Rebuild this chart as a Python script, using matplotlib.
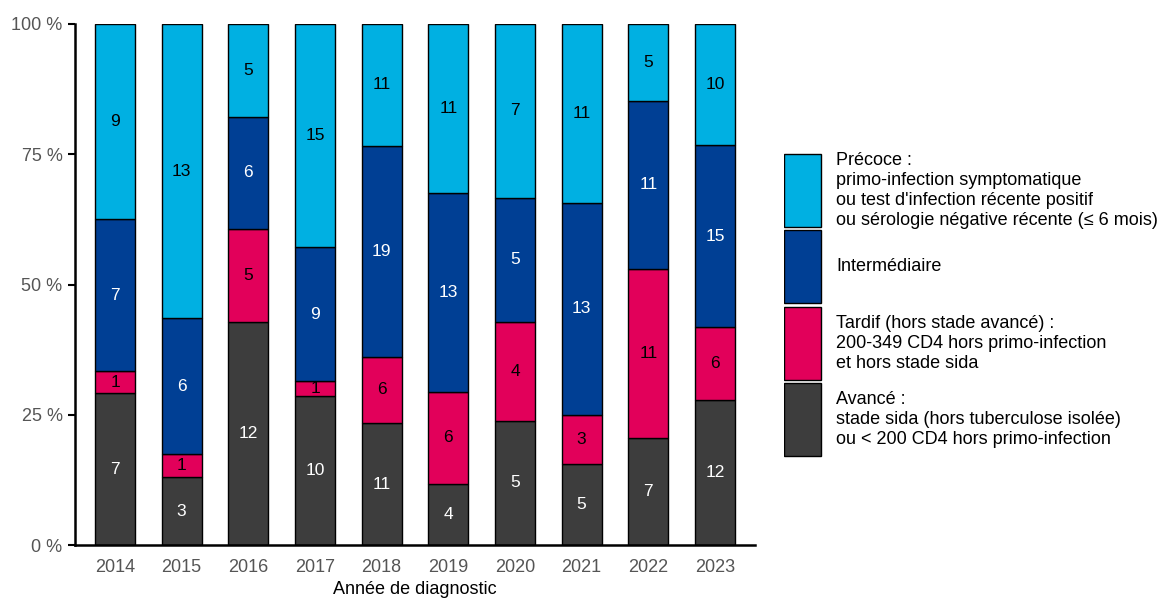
import matplotlib
matplotlib.use("Agg")
import matplotlib.pyplot as plt
import numpy as np
from matplotlib.patches import Rectangle

matplotlib.rcParams['font.family'] = ['Liberation Sans', 'DejaVu Sans']

years = ['2014', '2015', '2016', '2017', '2018', '2019', '2020', '2021', '2022', '2023']
avance = [7, 3, 12, 10, 11, 4, 5, 5, 7, 12]
tardif = [1, 1, 5, 1, 6, 6, 4, 3, 11, 6]
intermediaire = [7, 6, 6, 9, 19, 13, 5, 13, 11, 15]
precoce = [9, 13, 5, 15, 11, 11, 7, 11, 5, 10]

labels = [
    "Avancé :\nstade sida (hors tuberculose isolée)\nou < 200 CD4 hors primo-infection",
    "Tardif (hors stade avancé) :\n200-349 CD4 hors primo-infection\net hors stade sida",
    "Intermédiaire",
    "Précoce :\nprimo-infection symptomatique\nou test d'infection récente positif\nou sérologie négative récente (≤ 6 mois)",
]
colors = ['#3d3d3d', '#e2005a', '#003f94', '#00b0e2']
text_colors = ['white', 'black', 'white', 'black']

series = np.array([avance, tardif, intermediaire, precoce], dtype=float)
totals = series.sum(axis=0)
pct = series / totals * 100

W, H = 1168, 598
fig = plt.figure(figsize=(W / 100, H / 100), dpi=100)
ax = fig.add_axes([75 / W, 1 - 545 / H, 680 / W, 521 / H])

x = np.arange(len(years))
bottom = np.zeros(len(years))
for i in range(4):
    ax.bar(x, pct[i], 0.6, bottom=bottom, color=colors[i],
           edgecolor='black', linewidth=1)
    for j in range(len(years)):
        ax.text(x[j], bottom[j] + pct[i][j] / 2, f'{int(series[i][j])}',
                ha='center', va='center', fontsize=12.5, color=text_colors[i])
    bottom += pct[i]

ax.set_xlim(-0.6, 9.6)
ax.set_ylim(0, 100)
ax.set_yticks([0, 25, 50, 75, 100])
ax.set_yticklabels(['0 %', '25 %', '50 %', '75 %', '100 %'])
ax.set_xticks(x)
ax.set_xticklabels(years)
ax.tick_params(axis='y', length=5, width=1.5, colors='black', labelcolor='#555555',
               labelsize=13, pad=4)
ax.tick_params(axis='x', length=0, labelcolor='#555555', labelsize=13, pad=10)
ax.set_xlabel("Année de diagnostic", fontsize=13, labelpad=4)

for s in ['top', 'right']:
    ax.spines[s].set_visible(False)
ax.spines['left'].set_linewidth(1.8)
ax.spines['bottom'].set_linewidth(1.8)

# légende dessinée à la main : 4 cases empilées
lax = fig.add_axes([784 / W, 1 - 458 / H, 384 / W, 306 / H])
lax.set_xlim(0, 384)
lax.set_ylim(0, 4)
lax.axis('off')
for k, i in enumerate([0, 1, 2, 3]):
    lax.add_patch(Rectangle((0, k + 0.02), 37, 0.96, facecolor=colors[i],
                            edgecolor='black', linewidth=1))
    lax.text(52, k + 0.5, labels[i], ha='left', va='center', fontsize=13,
             linespacing=1.22, color='black')

fig.savefig("out.png", dpi=100)
